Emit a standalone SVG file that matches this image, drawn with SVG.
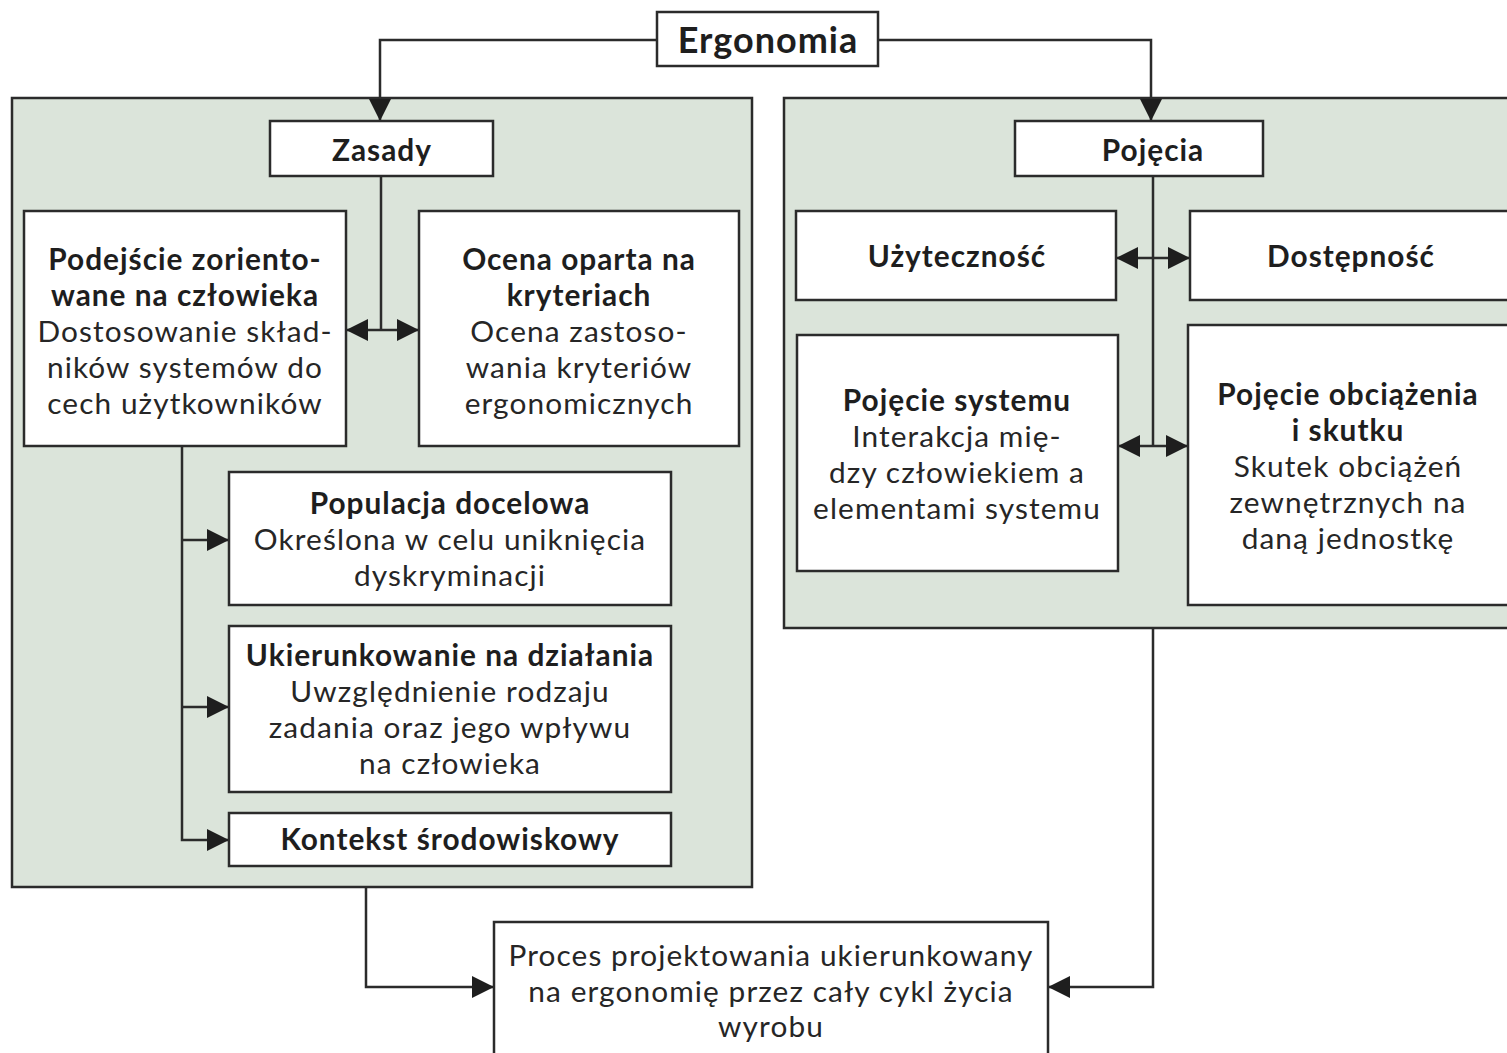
<svg xmlns="http://www.w3.org/2000/svg" width="1507" height="1053" viewBox="0 0 1507 1053">
<style>
.panel{fill:#dbe4da;stroke:#2b2b2b;stroke-width:2.5}
.box{fill:#ffffff;stroke:#2b2b2b;stroke-width:2.5}
.t{font-family:Lato,"Open Sans","DejaVu Sans",sans-serif;font-size:29.8px;letter-spacing:1.1px;fill:#262626;text-anchor:middle}
.b{font-weight:bold;font-size:29.8px;letter-spacing:1px;fill:#1e1e1e}
.ln{fill:none;stroke:#2b2b2b;stroke-width:2.5}
</style>
<defs>
<marker id="ah" markerUnits="userSpaceOnUse" markerWidth="24" markerHeight="24" refX="22" refY="11" orient="auto-start-reverse" viewBox="0 0 24 22">
<path d="M0,0 L22,11 L0,22 z" fill="#1e1e1e"/>
</marker>
</defs>
<rect width="1507" height="1053" fill="#ffffff"/>
<g id="panel-zasady"><rect class="panel" x="12" y="98" width="740" height="789"/></g>
<g id="panel-pojecia"><rect class="panel" x="784" y="98" width="740" height="530"/></g>
<g id="connectors">
<path class="ln" d="M657,40 H380 V121" marker-end="url(#ah)"/>
<path class="ln" d="M878,40 H1151 V121" marker-end="url(#ah)"/>
<path class="ln" d="M381,176 V330"/>
<path class="ln" d="M346,330 H419" marker-start="url(#ah)" marker-end="url(#ah)"/>
<path class="ln" d="M182,446 V840 H229" marker-end="url(#ah)"/>
<path class="ln" d="M182,540 H229" marker-end="url(#ah)"/>
<path class="ln" d="M182,707 H229" marker-end="url(#ah)"/>
<path class="ln" d="M1153,176 V446"/>
<path class="ln" d="M1116,258 H1190" marker-start="url(#ah)" marker-end="url(#ah)"/>
<path class="ln" d="M1118,446 H1188" marker-start="url(#ah)" marker-end="url(#ah)"/>
<path class="ln" d="M366,887 V987 H494" marker-end="url(#ah)"/>
<path class="ln" d="M1153,628 V987 H1048" marker-end="url(#ah)"/>
</g>
<g id="ergonomia"><rect class="box" x="657" y="12" width="221" height="54"/><text class="t b" x="768" y="53" style="font-size:36px;letter-spacing:1px">Ergonomia</text></g>
<g id="zasady"><rect class="box" x="270" y="121" width="223" height="55"/><text class="t b" x="382" y="161">Zasady</text></g>
<g id="pojecia"><rect class="box" x="1015" y="121" width="248" height="55"/><text class="t b" x="1153" y="161">Pojęcia</text></g>
<g id="podejscie"><rect class="box" x="24" y="211" width="322" height="235"/>
<text class="t b" x="185" y="270">Podejście zoriento-</text>
<text class="t b" x="185" y="306">wane na człowieka</text>
<text class="t" x="185" y="342">Dostosowanie skład-</text>
<text class="t" x="185" y="378">ników systemów do</text>
<text class="t" x="185" y="414">cech użytkowników</text></g>
<g id="ocena"><rect class="box" x="419" y="211" width="320" height="235"/>
<text class="t b" x="579" y="270">Ocena oparta na</text>
<text class="t b" x="579" y="306">kryteriach</text>
<text class="t" x="579" y="342">Ocena zastoso-</text>
<text class="t" x="579" y="378">wania kryteriów</text>
<text class="t" x="579" y="414">ergonomicznych</text></g>
<g id="populacja"><rect class="box" x="229" y="472" width="442" height="133"/>
<text class="t b" x="450" y="514">Populacja docelowa</text>
<text class="t" x="450" y="550">Określona w celu uniknięcia</text>
<text class="t" x="450" y="586">dyskryminacji</text></g>
<g id="ukierunkowanie"><rect class="box" x="229" y="626" width="442" height="166"/>
<text class="t b" x="450" y="666">Ukierunkowanie na działania</text>
<text class="t" x="450" y="702">Uwzględnienie rodzaju</text>
<text class="t" x="450" y="738">zadania oraz jego wpływu</text>
<text class="t" x="450" y="774">na człowieka</text></g>
<g id="kontekst"><rect class="box" x="229" y="813" width="442" height="53"/>
<text class="t b" x="450" y="850">Kontekst środowiskowy</text></g>
<g id="uzytecznosc"><rect class="box" x="796" y="211" width="320" height="89"/>
<text class="t b" x="957" y="267">Użyteczność</text></g>
<g id="dostepnosc"><rect class="box" x="1190" y="211" width="330" height="89"/>
<text class="t b" x="1351" y="267">Dostępność</text></g>
<g id="pojecie-systemu"><rect class="box" x="797" y="335" width="321" height="236"/>
<text class="t b" x="957" y="411">Pojęcie systemu</text>
<text class="t" x="957" y="447">Interakcja mię-</text>
<text class="t" x="957" y="483">dzy człowiekiem a</text>
<text class="t" x="957" y="519">elementami systemu</text></g>
<g id="pojecie-obciazenia"><rect class="box" x="1188" y="325" width="332" height="280"/>
<text class="t b" x="1348" y="405">Pojęcie obciążenia</text>
<text class="t b" x="1348" y="441">i skutku</text>
<text class="t" x="1348" y="477">Skutek obciążeń</text>
<text class="t" x="1348" y="513">zewnętrznych na</text>
<text class="t" x="1348" y="549">daną jednostkę</text></g>
<g id="proces"><rect class="box" x="494" y="922" width="554" height="140"/>
<text class="t" x="771" y="966">Proces projektowania ukierunkowany</text>
<text class="t" x="771" y="1002">na ergonomię przez cały cykl życia</text>
<text class="t" x="771" y="1037">wyrobu</text></g>
</svg>
